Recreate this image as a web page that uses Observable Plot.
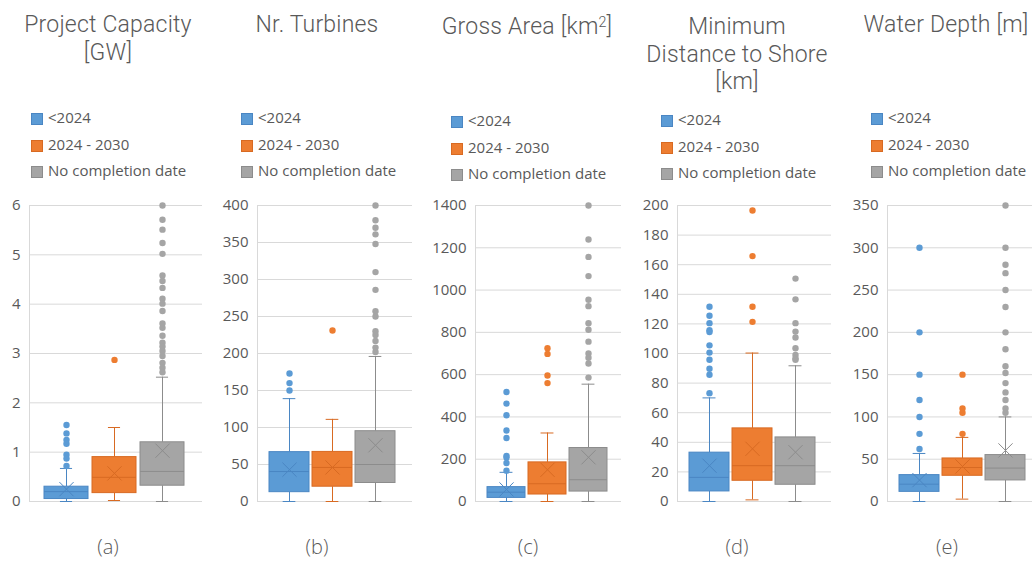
<!DOCTYPE html>
<html>
<head>
<meta charset="utf-8">
<script src="https://cdn.jsdelivr.net/npm/d3@7"></script>
<script src="https://cdn.jsdelivr.net/npm/@observablehq/plot@0.6"></script>
<style>
  html, body { margin: 0; padding: 0; background: #fff; }
  #root { position: relative; width: 1032px; height: 563px; overflow: hidden; font-family: "Open Sans", sans-serif; color: #595959; }
  .title { position: absolute; width: 300px; text-align: center; font-family: Roboto, "Open Sans", sans-serif; font-size: 23px; font-weight: 300; line-height: 27.5px; white-space: nowrap; letter-spacing: 0.2px; }
  .title sup { font-size: 0.62em; vertical-align: 0.5em; line-height: 0; }
  .leg { position: absolute; font-size: 15px; line-height: 18px; white-space: nowrap; }
  .sw { position: absolute; width: 10px; height: 10px; }
  .cap { position: absolute; width: 100px; text-align: center; font-size: 20px; font-weight: 300; line-height: 24px; }
  .plot { position: absolute; top: 190px; }
</style>
</head>
<body>
<div id="root"></div>
<script>
// ---------- data ----------
const groups = ["<2024", "2024 - 2030", "No completion date"];
const fills = ["#5B9BD5", "#ED7D31", "#A5A5A5"];
const strokes = ["#4A86C3", "#D86A22", "#8C8C8C"];

// each box: [whiskerLow, q1, median, q3, whiskerHigh, mean]
const capacityBoxes = [[0, 0.05, 0.2, 0.3, 0.67, 0.25], [0.02, 0.17, 0.49, 0.9, 1.5, 0.57], [0, 0.32, 0.61, 1.2, 2.52, 1.03]];
const capacityOutliers = [
  [1.55, 1.38, 1.25, 1.17, 0.95, 0.87, 0.72],
  [2.87],
  [6.0, 5.71, 5.51, 5.24, 5.02, 4.58, 4.47, 4.33, 4.11, 4.01, 3.86, 3.61, 3.52, 3.36, 3.22, 3.14, 3.05, 2.95, 2.81, 2.71, 2.62]
];
const capacityTicks = [0, 1, 2, 3, 4, 5, 6];

const turbineBoxes = [[0, 12.6, 40.5, 66.7, 139, 43], [0, 20, 46, 67, 111, 46], [0, 25, 50, 95, 196, 76]];
const turbineOutliers = [
  [173, 160, 150],
  [231],
  [400, 380, 370, 361, 348, 310, 286, 257, 250, 230, 225, 217, 208, 202]
];
const turbineTicks = [0, 50, 100, 150, 200, 250, 300, 350, 400];

const areaBoxes = [[0, 17, 44, 68, 138, 57], [0, 33, 84, 185, 324, 150], [0, 47, 103, 253, 555, 209]];
const areaOutliers = [
  [518, 463, 408, 336, 300, 216, 208, 182, 146],
  [725, 698, 596, 560],
  [1400, 1239, 1157, 1066, 954, 924, 843, 812, 756, 700, 680, 653, 586]
];
const areaTicks = [0, 200, 400, 600, 800, 1000, 1200, 1400];

const distanceBoxes = [[0, 6.8, 16.3, 33, 70, 24.2], [1.1, 14, 24.2, 49.4, 100.3, 35.6], [0, 11.3, 24.2, 43.3, 91.7, 33.3]];
const distanceOutliers = [
  [131.6, 125.5, 120.5, 115.7, 114.5, 105.5, 100.6, 95.8, 89.7, 85.6, 73.2],
  [196.6, 165.8, 131.6, 121.4],
  [150.6, 136.6, 120.5, 114.8, 110.8, 103.5, 99, 96.7, 95.8]
];
const distanceTicks = [0, 20, 40, 60, 80, 100, 120, 140, 160, 180, 200];

const depthBoxes = [[0, 11.4, 20.5, 31.2, 56.8, 25.3], [2.8, 30.4, 40.2, 50.9, 75.8, 41.4], [0, 24.9, 39.5, 54.9, 100, 60.4]];
const depthOutliers = [
  [300, 200, 150, 120, 100, 80, 62],
  [150, 110, 105, 80],
  [350, 300, 280, 270, 250, 230, 200, 180, 160, 152, 140, 129, 120, 110, 105]
];
const depthTicks = [0, 50, 100, 150, 200, 250, 300, 350];

const titles = [
  ["Project Capacity", "[GW]"],
  ["Nr. Turbines"],
  ["Gross Area [km<sup>2</sup>]"],
  ["Minimum", "Distance to Shore", "[km]"],
  ["Water Depth [m]"]
];
const captions = ["(a)", "(b)", "(c)", "(d)", "(e)"];

// ---------- layout ----------
const layout = [
  {gridLeft: 29, gridRight: 202, boxLeft: 42.5, boxRight: 185, titleX: 108, titleY: 25, legX: 31, legY: 118, capX: 108},
  {gridLeft: 257, gridRight: 412, boxLeft: 268, boxRight: 396, titleX: 317, titleY: 25, legX: 241, legY: 118, capX: 317},
  {gridLeft: 475, gridRight: 621, boxLeft: 486, boxRight: 607, titleX: 527, titleY: 27, legX: 451, legY: 121, capX: 528},
  {gridLeft: 677, gridRight: 831, boxLeft: 688, boxRight: 815, titleX: 737, titleY: 27, legX: 661, legY: 120, capX: 737},
  {gridLeft: 887, gridRight: 1043, boxLeft: 898, boxRight: 1026, titleX: 946, titleY: 25, legX: 871, legY: 118, capX: 947}
];
const panelData = [
  [capacityBoxes, capacityOutliers, capacityTicks],
  [turbineBoxes, turbineOutliers, turbineTicks],
  [areaBoxes, areaOutliers, areaTicks],
  [distanceBoxes, distanceOutliers, distanceTicks],
  [depthBoxes, depthOutliers, depthTicks]
];

const root = document.getElementById("root");
const fillOf = Object.fromEntries(groups.map((g, i) => [g, fills[i]]));
const strokeOf = Object.fromEntries(groups.map((g, i) => [g, strokes[i]]));

panelData.forEach(([boxes, outliers, ticks], p) => {
  const L = layout[p];
  // title, one element per line
  titles[p].forEach((line, k) => {
    const t = document.createElement("div");
    t.className = "title";
    t.style.left = (L.titleX - 150) + "px";
    t.style.top = (L.titleY - 13.75 + k * 27.5) + "px";
    t.innerHTML = line;
    root.appendChild(t);
  });
  // legend
  groups.forEach((g, i) => {
    const cy = L.legY + i * 26.5;
    const sw = document.createElement("div");
    sw.className = "sw";
    sw.style.left = L.legX + "px";
    sw.style.top = (cy - 5) + "px";
    sw.style.background = fills[i];
    sw.style.border = "0.5px solid " + strokes[i];
    root.appendChild(sw);
    const lt = document.createElement("div");
    lt.className = "leg";
    lt.style.left = (L.legX + 17) + "px";
    lt.style.top = (cy - 10) + "px";
    lt.textContent = g;
    root.appendChild(lt);
  });
  // caption
  const c = document.createElement("div");
  c.className = "cap";
  c.style.left = (L.capX - 50) + "px";
  c.style.top = (548 - 13) + "px";
  c.textContent = captions[p];
  root.appendChild(c);

  // plot
  const rows = groups.map((g, i) => ({
    group: g, lo: boxes[i][0], q1: boxes[i][1], median: boxes[i][2],
    q3: boxes[i][3], hi: boxes[i][4], mean: boxes[i][5]
  }));
  const outRows = groups.flatMap((g, i) => outliers[i].map(v => ({group: g, value: v})));
  const mLeft = 45;
  const svgLeft = L.gridLeft - mLeft;
  const width = L.gridRight - svgLeft;
  const bw = (L.boxRight - L.boxLeft) / (3 - 0.08) * 0.92;
  const capInset = Math.max(0, (bw - 13) / 2);
  const plot = Plot.plot({
    width, height: 325,
    marginLeft: mLeft, marginRight: 0, marginTop: 15, marginBottom: 14,
    style: {fontFamily: "'Open Sans', sans-serif", fontSize: "15px", color: "#595959", overflow: "visible", background: "transparent"},
    x: {type: "band", domain: groups, range: [L.boxLeft - svgLeft, L.boxRight - svgLeft], paddingInner: 0.08, paddingOuter: 0, axis: null},
    y: {domain: [0, d3.max(ticks)], axis: null},
    marks: [
      Plot.gridY(ticks, {stroke: "#D9D9D9", strokeOpacity: 1}),
      Plot.frame({anchor: "left", stroke: "#D9D9D9", strokeOpacity: 1}),
      Plot.axisY(ticks, {tickSize: 0, tickPadding: 9, fill: "#595959", fontSize: 15, tickFormat: d => String(d)}),
      Plot.ruleX(rows, {x: "group", y1: "lo", y2: "q1", stroke: d => strokeOf[d.group], strokeWidth: 1}),
      Plot.ruleX(rows, {x: "group", y1: "q3", y2: "hi", stroke: d => strokeOf[d.group], strokeWidth: 1}),
      Plot.tickY(rows, {x: "group", y: "lo", stroke: d => strokeOf[d.group], strokeWidth: 1, insetLeft: capInset, insetRight: capInset}),
      Plot.tickY(rows, {x: "group", y: "hi", stroke: d => strokeOf[d.group], strokeWidth: 1, insetLeft: capInset, insetRight: capInset}),
      Plot.barY(rows, {x: "group", y1: "q1", y2: "q3", fill: d => fillOf[d.group], stroke: d => strokeOf[d.group], strokeWidth: 1}),
      Plot.tickY(rows, {x: "group", y: "median", stroke: d => strokeOf[d.group], strokeWidth: 1}),
      Plot.dot(rows, {x: "group", y: "mean", symbol: "times", r: 6.5, stroke: d => strokeOf[d.group], strokeWidth: 1}),
      Plot.dot(outRows, {x: "group", y: "value", r: 3.2, fill: d => fillOf[d.group], stroke: "none"})
    ]
  });
  plot.classList.add("plot");
  plot.style.left = svgLeft + "px";
  root.appendChild(plot);
});
</script>
</body>
</html>
